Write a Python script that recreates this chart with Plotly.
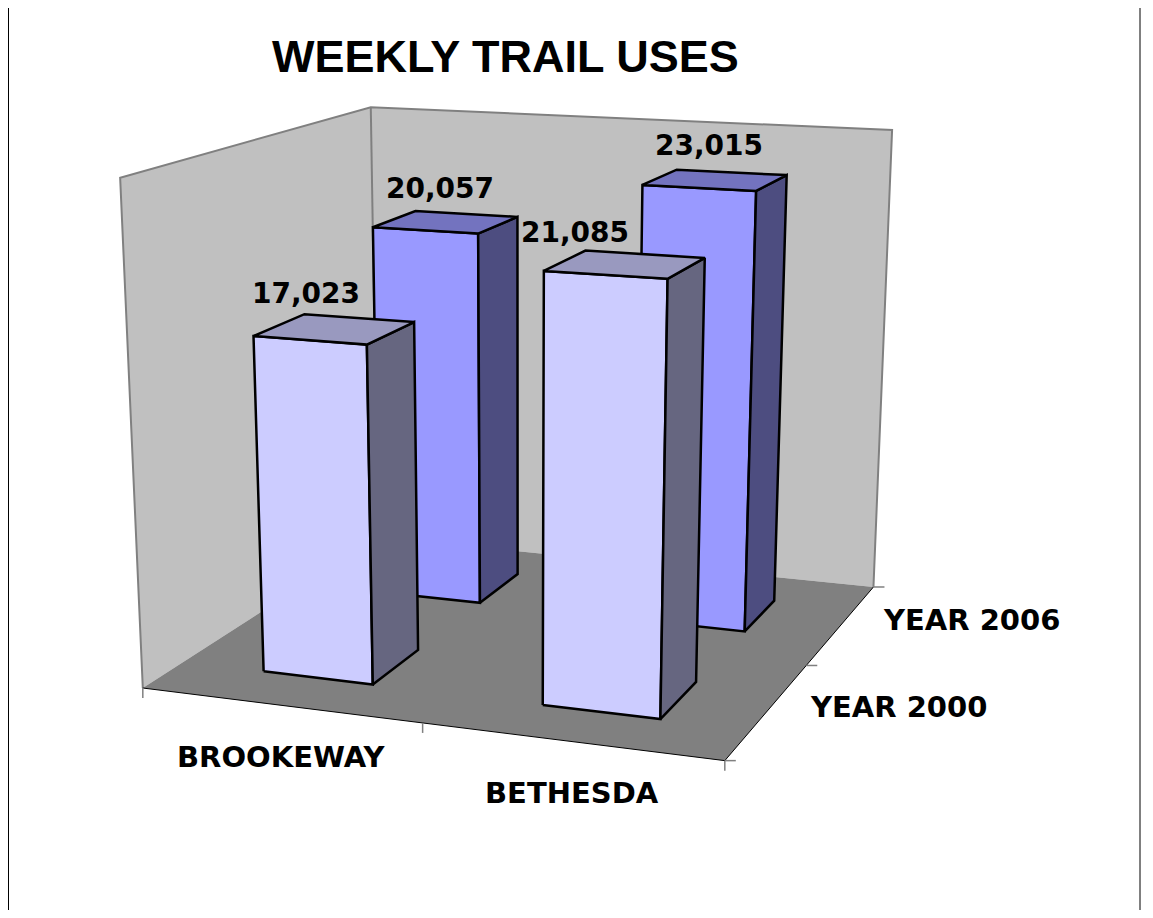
import numpy as np
import plotly.graph_objects as go

# ---------------- data ----------------
categories = ["BROOKEWAY", "BETHESDA"]
series_names = ["YEAR 2000", "YEAR 2006"]
values_2000 = [17023, 21085]
values_2006 = [20057, 23015]
axis_max = 25000
chart_title = "WEEKLY TRAIL USES"

# ---------------- style ----------------
# 3x4 perspective camera: (category, series depth, value/axis_max, 1) -> screen pixels
CAMERA = np.array([
    [264.1803371, 154.6826318, -29.4362983, 142.8073161],
    [8.1559725, -22.6976685, -520.3544876, 688.0280472],
    [-0.0370018, 0.0982921, -0.0564499, 1.0],
])
BAR_FRAC = 0.4            # bar width/depth as share of a category/series slot
WALL = "#c0c0c0"
FLOOR = "#808080"
EDGE_GRAY = "#808080"
SERIES_COLORS = [
    dict(front="#ccccff", top="#9999bf", side="#666680"),
    dict(front="#9999ff", top="#7373bf", side="#4d4d80"),
]
LABEL_DEPTH = 1.5
LABEL_OFFSET = [(-140, 15), (-6, -34)]
VALUE_FONT = dict(family="DejaVu Sans", size=28, color="black", weight="bold")
AXIS_FONT = dict(family="DejaVu Sans", size=29, color="black", weight="bold")
TITLE_FONT = dict(family="Liberation Sans, Arial", size=45, color="black", weight="bold")

PAGE_MARGIN = 8
FIG_W, FIG_H = 1153 - 2 * PAGE_MARGIN, 918 - 2 * PAGE_MARGIN

nc = len(categories)
ns = len(series_names)
series_values = [values_2000, values_2006]


def project(X, Y, value):
    h = CAMERA @ np.array([X, Y, value / axis_max, 1.0])
    return h[0] / h[2], h[1] / h[2]


def poly(points):
    pts = [project(*p) for p in points]
    pts.append(pts[0])
    return [p[0] for p in pts], [p[1] for p in pts]


fig = go.Figure()


def add_face(points, fill, line_color=None, width=0):
    xs, ys = poly(points)
    fig.add_trace(go.Scatter(
        x=xs, y=ys, mode="lines", fill="toself", fillcolor=fill,
        line=dict(color=line_color or fill, width=width),
        hoverinfo="skip", showlegend=False))


def add_line(points, color, width):
    pts = [project(*p) for p in points]
    fig.add_trace(go.Scatter(
        x=[p[0] for p in pts], y=[p[1] for p in pts], mode="lines",
        line=dict(color=color, width=width), hoverinfo="skip", showlegend=False))


# walls and floor
add_face([(0, 0, 0), (0, ns, 0), (0, ns, axis_max), (0, 0, axis_max)], WALL)
add_face([(0, ns, 0), (nc, ns, 0), (nc, ns, axis_max), (0, ns, axis_max)], WALL)
add_face([(0, 0, 0), (nc, 0, 0), (nc, ns, 0), (0, ns, 0)], FLOOR)
add_line([(0, 0, 0), (0, 0, axis_max), (0, ns, axis_max), (nc, ns, axis_max), (nc, ns, 0)], EDGE_GRAY, 2)
add_line([(0, ns, 0), (0, ns, axis_max)], EDGE_GRAY, 2)
add_line([(0, 0, 0), (nc, 0, 0), (nc, ns, 0)], "black", 1)

# tick marks
for i in range(nc + 1):
    x, y = project(i, 0, 0)
    fig.add_trace(go.Scatter(x=[x, x], y=[y, y + 10], mode="lines",
                             line=dict(color=EDGE_GRAY, width=1.5),
                             hoverinfo="skip", showlegend=False))
for j in range(ns + 1):
    x, y = project(nc, j, 0)
    fig.add_trace(go.Scatter(x=[x, x + 11], y=[y, y], mode="lines",
                             line=dict(color=EDGE_GRAY, width=1.5),
                             hoverinfo="skip", showlegend=False))

# bars, back row first
g = (1 - BAR_FRAC) / 2
for j in reversed(range(ns)):
    col = SERIES_COLORS[j]
    for i in range(nc):
        v = series_values[j][i]
        x0, x1 = i + g, i + 1 - g
        y0, y1 = j + g, j + 1 - g
        add_face([(x0, y0, 0), (x1, y0, 0), (x1, y0, v), (x0, y0, v)], col["front"], "black", 2.5)
        add_face([(x1, y0, 0), (x1, y1, 0), (x1, y1, v), (x1, y0, v)], col["side"], "black", 2.5)
        add_face([(x0, y0, v), (x1, y0, v), (x1, y1, v), (x0, y1, v)], col["top"], "black", 2.5)

annotations = []
# value labels
for j in range(ns):
    for i in range(nc):
        v = series_values[j][i]
        x, y = project(i + 0.5, LABEL_DEPTH, v)
        dx, dy = LABEL_OFFSET[j]
        annotations.append(dict(x=x + dx, y=y + dy, xref="x", yref="y", text=f"{v:,}",
                                showarrow=False, font=VALUE_FONT,
                                xanchor="center", yanchor="middle"))
# category labels
for i, name in enumerate(categories):
    x, y = project(i + 0.5, 0, 0)
    annotations.append(dict(x=x + 1, y=y + 52, xref="x", yref="y", text=name,
                            showarrow=False, font=AXIS_FONT,
                            xanchor="center", yanchor="middle"))
# series labels
for j, name in enumerate(series_names):
    x, y = project(nc, j + 0.5, 0)
    annotations.append(dict(x=x + 40, y=y - 4, xref="x", yref="y", text=name,
                            showarrow=False, font=AXIS_FONT,
                            xanchor="left", yanchor="middle"))
# title
annotations.append(dict(x=505, y=56, xref="x", yref="y", text=chart_title,
                        showarrow=False, font=TITLE_FONT,
                        xanchor="center", yanchor="middle"))

border = dict(color="black", width=1)
fig.update_layout(
    width=FIG_W, height=FIG_H,
    margin=dict(l=0, r=0, t=0, b=0),
    paper_bgcolor="white", plot_bgcolor="white",
    showlegend=False,
    annotations=annotations,
    xaxis=dict(range=[PAGE_MARGIN, PAGE_MARGIN + FIG_W], visible=False, fixedrange=True),
    yaxis=dict(range=[PAGE_MARGIN + FIG_H, PAGE_MARGIN], visible=False, fixedrange=True),
    shapes=[
        dict(type="line", xref="x", yref="y", x0=1140, x1=1140,
             y0=PAGE_MARGIN, y1=PAGE_MARGIN + FIG_H, line=border),
        dict(type="line", xref="x", yref="y", x0=PAGE_MARGIN + 0.5, x1=PAGE_MARGIN + 0.5,
             y0=PAGE_MARGIN, y1=PAGE_MARGIN + FIG_H, line=border),
    ],
)

fig.write_html("out.html")
